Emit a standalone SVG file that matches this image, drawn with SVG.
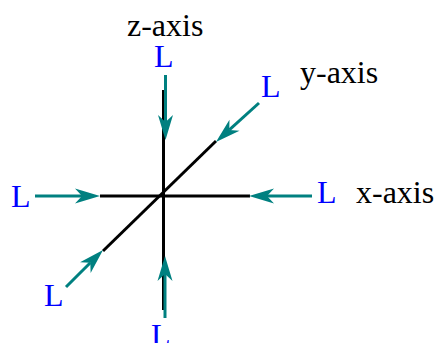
<svg xmlns="http://www.w3.org/2000/svg" width="436" height="343" viewBox="0 0 436 343">
<style>
.axis{stroke:#000;stroke-width:3;fill:none}
.arr{stroke:#008080;stroke-width:3;fill:none;marker-end:url(#ah)}
.lbl{font-family:"Liberation Serif","Times New Roman",serif;font-size:32px;fill:#000}
.L{font-family:"Liberation Serif","Times New Roman",serif;font-size:32px;fill:#0000FF}
</style>
<defs>
<marker id="ah" markerUnits="userSpaceOnUse" markerWidth="30" markerHeight="18" refX="7" refY="8" orient="auto" overflow="visible">
<path d="M0,0.5 L25,8 L0,15.5 L7,8 Z" fill="#008080"/>
</marker>
</defs>
<rect width="436" height="343" fill="#fff"/>
<g id="axes">
<line class="axis" x1="100" y1="196" x2="250" y2="196"/>
<line class="axis" x1="163.5" y1="90" x2="163.5" y2="310"/>
<line class="axis" x1="103" y1="251" x2="216" y2="141"/>
</g>
<g id="connectors">
<line class="arr" x1="35" y1="196" x2="82" y2="196"/>
<line class="arr" x1="312" y1="196" x2="267" y2="196"/>
<line class="arr" x1="165.5" y1="75" x2="165.5" y2="122"/>
<line class="arr" x1="165" y1="318" x2="165" y2="274"/>
<line class="arr" x1="259" y1="103" x2="229.3" y2="129.9"/>
<line class="arr" x1="66" y1="287" x2="90.3" y2="262.7"/>
</g>
<g id="labels">
<text class="lbl" x="127" y="36">z-axis</text>
<text class="lbl" x="300" y="83">y-axis</text>
<text class="lbl" x="356" y="203">x-axis</text>
</g>
<g id="L-top"><text class="L" x="154" y="67">L</text></g>
<g id="L-upper-right"><text class="L" x="261" y="97">L</text></g>
<g id="L-left"><text class="L" x="11" y="207">L</text></g>
<g id="L-right"><text class="L" x="317" y="203">L</text></g>
<g id="L-lower-left"><text class="L" x="44" y="306">L</text></g>
<g id="L-bottom"><text class="L" x="151" y="346">L</text></g>
</svg>
